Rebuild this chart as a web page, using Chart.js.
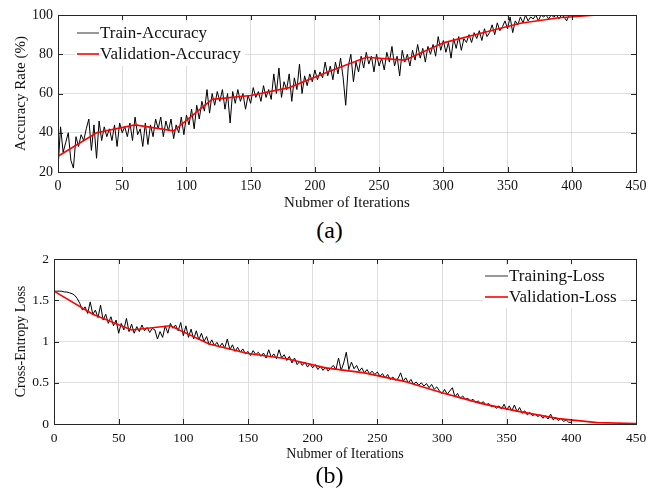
<!DOCTYPE html>
<html lang="en">

<head>
  <meta charset="UTF-8">
  <meta name="viewport" content="width=device-width, initial-scale=1.0">
  <title>Accuracy and Loss</title>
  <style>
    body { margin: 0; background: #fff; }
    #wrap { position: relative; width: 659px; height: 490px; font-family: "Liberation Serif", "Times New Roman", serif; }
    canvas { position: absolute; left: 0; }
    #accChart { top: 0; }
    #lossChart { top: 245px; }
    .cap { position: absolute; left: 0; width: 659px; text-align: center; font-size: 24px; line-height: 28px; color: #000; }
  </style>
</head>

<body>

  <div id="wrap">
    <canvas id="accChart" width="659" height="215"></canvas>
    <div class="cap" style="top:216px">(a)</div>
    <canvas id="lossChart" width="659" height="220"></canvas>
    <div class="cap" style="top:461px">(b)</div>
  </div>

  <script src="https://cdn.jsdelivr.net/npm/chart.js@4.4.0/dist/chart.umd.min.js"></script>

  <script>
    // training curves, one value every 2 iterations (0..400)
    const trainAcc = [
      22, 43, 30, 35, 40, 26, 22, 38, 33, 39,
      36, 42, 47, 31, 44, 27, 46, 36, 43, 38,
      42, 36, 44, 33, 45, 40, 43, 38, 45, 36,
      48, 39, 42, 33, 45, 34, 44, 38, 47, 42,
      48, 38, 46, 41, 47, 37, 44, 40, 48, 39,
      49, 44, 52, 42, 54, 47, 56, 51, 62, 50,
      60, 54, 61, 56, 62, 52, 60, 45, 61, 55,
      62, 56, 60, 52, 59, 55, 63, 58, 61, 56,
      64, 58, 62, 57, 70, 60, 73, 58, 66, 62,
      70, 56, 68, 62, 75, 60, 69, 64, 70, 66,
      72, 67, 71, 68, 76, 69, 74, 67, 76, 70,
      78, 68, 54, 74, 80, 66, 76, 71, 79, 73,
      81, 75, 79, 71, 80, 74, 78, 72, 81, 76,
      84, 74, 79, 69, 82, 76, 80, 74, 82, 77,
      85, 78, 83, 76, 84, 80, 85, 79, 89, 82,
      87, 81, 86, 78, 88, 83, 89, 82, 88, 86,
      90, 86, 91, 88, 92, 87, 93, 89, 91, 95,
      90, 96, 92, 94, 97, 93, 99, 91, 97, 95,
      99, 96, 100, 97, 99, 98, 100, 97, 100, 99,
      100, 98, 100, 99, 100, 98, 100, 99, 97, 100,
      100
    ];

    const trainLoss = [
      1.61, 1.61, 1.61, 1.61, 1.60, 1.60, 1.59, 1.58, 1.56, 1.52,
      1.46, 1.38, 1.42, 1.34, 1.48, 1.33, 1.38, 1.29, 1.44, 1.26,
      1.33, 1.22, 1.30, 1.19, 1.26, 1.10, 1.22, 1.14, 1.28, 1.12,
      1.21, 1.10, 1.18, 1.12, 1.20, 1.13, 1.17, 1.11, 1.16, 1.14,
      1.03, 1.12, 1.05, 1.19, 1.10, 1.22, 1.16, 1.20, 1.13, 1.23,
      1.07, 1.19, 1.05, 1.15, 1.03, 1.13, 1.02, 1.10, 1.00, 1.06,
      0.96, 1.02, 0.95, 0.99, 0.93, 0.98, 0.92, 1.03, 0.90, 0.96,
      0.88, 0.93, 0.87, 0.91, 0.85, 0.88, 0.83, 0.89, 0.84, 0.87,
      0.82, 0.86, 0.80, 0.90, 0.81, 0.85, 0.79, 0.90, 0.80, 0.84,
      0.77, 0.82, 0.74, 0.80, 0.72, 0.76, 0.71, 0.75, 0.69, 0.73,
      0.68, 0.72, 0.66, 0.70, 0.65, 0.69, 0.64, 0.68, 0.71, 0.66,
      0.80, 0.65, 0.74, 0.87, 0.66, 0.75, 0.67, 0.71, 0.64, 0.68,
      0.62, 0.66, 0.61, 0.64, 0.60, 0.63, 0.58, 0.61, 0.56, 0.60,
      0.54, 0.57, 0.53, 0.55, 0.62, 0.52, 0.56, 0.50, 0.54, 0.48,
      0.51, 0.47, 0.50, 0.46, 0.49, 0.44, 0.48, 0.42, 0.45, 0.40,
      0.37, 0.42, 0.36, 0.40, 0.44, 0.33, 0.37, 0.31, 0.34, 0.30,
      0.31, 0.28, 0.30, 0.26, 0.28, 0.25, 0.27, 0.23, 0.25, 0.21,
      0.22, 0.19, 0.22, 0.18, 0.24, 0.17, 0.22, 0.16, 0.23, 0.15,
      0.20, 0.13, 0.16, 0.11, 0.14, 0.10, 0.12, 0.09, 0.11, 0.07,
      0.10, 0.06, 0.12, 0.05, 0.08, 0.04, 0.07, 0.03, 0.05, 0.02,
      0.02
    ];
    const trainIters = trainAcc.map((_, i) => i * 2);

    // validation curves, evaluated every 30 iterations
    const valIters = [0, 30, 60, 90, 120, 150, 180, 210, 240, 270, 300, 330, 360, 390, 420, 450];
    const valAcc = [28, 40, 44, 41, 57, 59, 63, 71, 78.5, 77, 85.8, 90.8, 95.8, 98.6, 100, 100];
    const valLoss = [1.61, 1.33, 1.14, 1.19, 0.97, 0.855, 0.79, 0.68, 0.62, 0.52, 0.38, 0.25, 0.15, 0.065, 0.017, 0.005];

    const iterTicks = ['0', '50', '100', '150', '200', '250', '300', '350', '400', '450'];
    const accTicks = ['20', '40', '60', '80', '100'];
    const lossTicks = ['0', '0.5', '1', '1.5', '2'];

    const serif = '"Liberation Serif", "Times New Roman", serif';
    const ink = '#111';

    function pairs(xs, ys) {
      return ys.map((y, i) => ({ x: xs[i], y: y }));
    }

    // matlab style box with inward ticks
    const framePlugin = {
      id: 'frame',
      afterDraw(chart) {
        const { ctx, chartArea: a, scales } = chart;
        ctx.save();
        ctx.strokeStyle = '#262626';
        ctx.lineWidth = 1;
        ctx.beginPath();
        scales.x.ticks.forEach(t => {
          const px = Math.round(scales.x.getPixelForValue(t.value)) + 0.5;
          ctx.moveTo(px, a.bottom); ctx.lineTo(px, a.bottom - 5);
          ctx.moveTo(px, a.top); ctx.lineTo(px, a.top + 5);
        });
        scales.y.ticks.forEach(t => {
          const py = Math.round(scales.y.getPixelForValue(t.value)) + 0.5;
          ctx.moveTo(a.left, py); ctx.lineTo(a.left + 5, py);
          ctx.moveTo(a.right, py); ctx.lineTo(a.right - 5, py);
        });
        ctx.stroke();
        ctx.strokeRect(Math.round(a.left) + 0.5, Math.round(a.top) + 0.5, Math.round(a.width), Math.round(a.height));
        ctx.restore();
      }
    };

    // legend inside the plot area, white box without border
    const boxLegend = {
      id: 'boxLegend',
      afterDatasetsDraw(chart, args, opts) {
        const { ctx } = chart;
        ctx.save();
        ctx.font = opts.size + 'px ' + serif;
        const widest = Math.max(...chart.data.datasets.map(ds => ctx.measureText(ds.label).width));
        ctx.fillStyle = '#fff';
        ctx.fillRect(opts.x, opts.y, opts.pad + opts.line + 2 + widest + 3, opts.h);
        ctx.textBaseline = 'middle';
        chart.data.datasets.forEach((ds, i) => {
          const y = opts.y + opts.first + i * opts.gap;
          ctx.strokeStyle = ds.legendColor || ds.borderColor;
          ctx.lineWidth = ds.borderWidth;
          ctx.beginPath();
          ctx.moveTo(opts.x + opts.pad, y);
          ctx.lineTo(opts.x + opts.pad + opts.line, y);
          ctx.stroke();
          ctx.fillStyle = ink;
          ctx.fillText(ds.label, opts.x + opts.pad + opts.line + 1, y + 1);
        });
        ctx.restore();
      }
    };

    function makeChart(id, cfg) {
      const ctx = document.getElementById(id).getContext('2d');
      return new Chart(ctx, {
        type: 'line',
        data: {
          datasets: [{
            label: cfg.trainLabel,
            data: pairs(trainIters, cfg.train),
            borderColor: '#000',
            legendColor: '#333',
            borderWidth: 1,
            pointRadius: 0,
            tension: 0,
            order: 1
          }, {
            label: cfg.valLabel,
            data: pairs(valIters, cfg.val),
            borderColor: '#ff0000',
            borderWidth: 1.6,
            pointRadius: 0,
            tension: 0,
            order: 0
          }]
        },
        options: {
          responsive: false,
          animation: false,
          devicePixelRatio: 1,
          layout: { padding: cfg.padding },
          plugins: {
            legend: { display: false },
            tooltip: { enabled: false },
            boxLegend: cfg.legend
          },
          scales: {
            x: {
              type: 'linear',
              min: 0,
              max: 450,
              afterFit: s => { s.height = cfg.xHeight; },
              border: { display: false },
              grid: { color: '#dedede', drawTicks: false },
              ticks: {
                stepSize: 50,
                padding: cfg.xPad,
                color: ink,
                font: { family: serif, size: cfg.tickSize },
                maxRotation: 0,
                callback: (v, i) => iterTicks[i]
              },
              title: {
                display: true,
                text: 'Nubmer of Iterations',
                color: ink,
                font: { family: serif, size: cfg.xTitleSize },
                padding: { top: 0, bottom: cfg.xTitlePad }
              }
            },
            y: {
              min: cfg.yMin,
              max: cfg.yMax,
              afterFit: s => { s.width = cfg.yWidth; },
              border: { display: false },
              grid: { color: '#dedede', drawTicks: false },
              ticks: {
                stepSize: cfg.yStep,
                padding: 5,
                color: ink,
                font: { family: serif, size: cfg.tickSize },
                callback: (v, i) => cfg.yTicks[i]
              },
              title: {
                display: true,
                text: cfg.yTitle,
                color: ink,
                font: { family: serif, size: cfg.yTitleSize },
                padding: { top: cfg.yTitlePad, bottom: 0 }
              }
            }
          }
        },
        plugins: [framePlugin, boxLegend]
      });
    }

    makeChart('accChart', {
      train: trainAcc, val: valAcc,
      trainLabel: 'Train-Accuracy', valLabel: 'Validation-Accuracy',
      yMin: 20, yMax: 100, yStep: 20, yTicks: accTicks,
      yTitle: 'Accuracy Rate (%)', yTitleSize: 15, yTitlePad: 12,
      tickSize: 14, xTitleSize: 15, xTitlePad: 3, xPad: 6,
      xHeight: 43, yWidth: 58,
      padding: { top: 15, right: 23, bottom: 0, left: 0 },
      legend: { x: 75, y: 22, h: 44, pad: 2, line: 22, first: 11, gap: 21, size: 17 }
    });

    makeChart('lossChart', {
      train: trainLoss, val: valLoss,
      trainLabel: 'Training-Loss', valLabel: 'Validation-Loss',
      yMin: 0, yMax: 2, yStep: 0.5, yTicks: lossTicks,
      yTitle: 'Cross-Entropy Loss', yTitleSize: 14, yTitlePad: 13,
      tickSize: 13.5, xTitleSize: 14, xTitlePad: 2, xPad: 6,
      xHeight: 41, yWidth: 54,
      padding: { top: 14, right: 23, bottom: 0, left: 0 },
      legend: { x: 483, y: 20, h: 43, pad: 2, line: 23, first: 11, gap: 21, size: 17 }
    });
  </script>

</body>

</html>
